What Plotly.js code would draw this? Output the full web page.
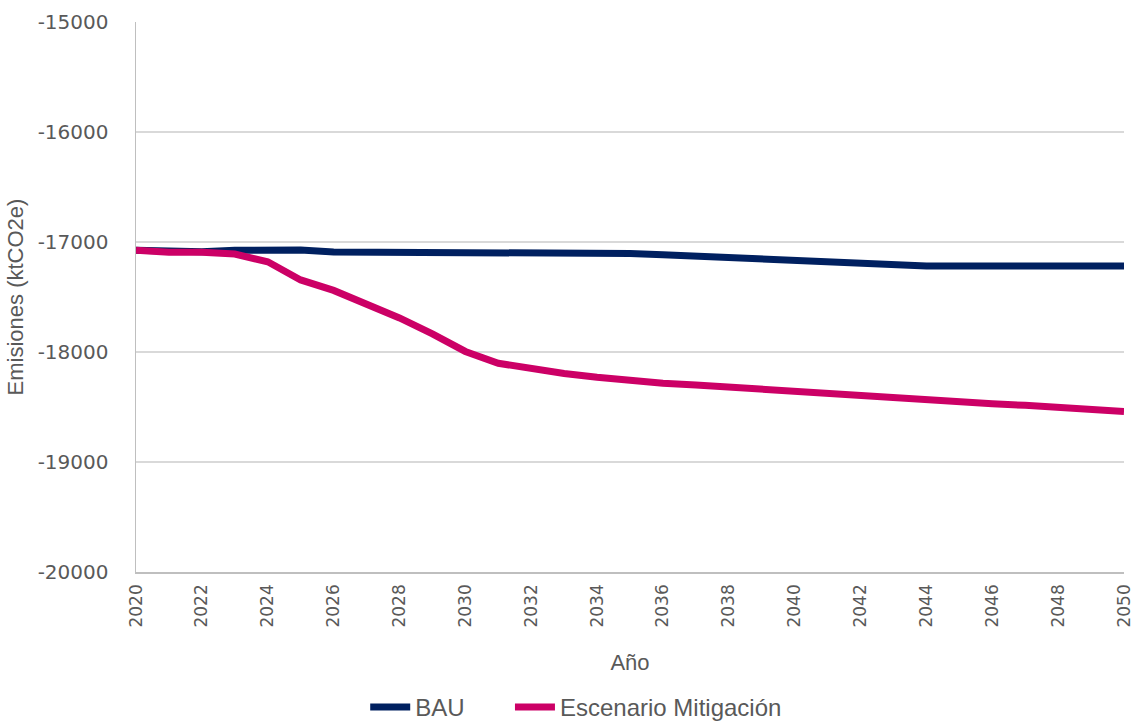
<!DOCTYPE html>
<html>
<head>
<meta charset="utf-8">
<script src="https://cdn.plot.ly/plotly-3.0.1.min.js"></script>
<style>body{margin:0;background:#fff;}#chart{width:1135px;height:724px;}</style>
</head>
<body>
<div id="chart"></div>
<script>
const years = [2020,2021,2022,2023,2024,2025,2026,2027,2028,2029,2030,2031,2032,2033,2034,2035,2036,2037,2038,2039,2040,2041,2042,2043,2044,2045,2046,2047,2048,2049,2050];
const bau = [-17075,-17085,-17088,-17075,-17072,-17072,-17090,-17090,-17090,-17092,-17092,-17093,-17093,-17093,-17103,-17105,-17115,-17128,-17140,-17162,-17178,-17188,-17198,-17208,-17218,-17218,-17218,-17218,-17218,-17218,-17218];
const mitig = [-17075,-17094,-17094,-17110,-17180,-17345,-17440,-17565,-17690,-17835,-17995,-18103,-18155,-18195,-18230,-18265,-18285,-18300,-18320,-18345,-18365,-18385,-18400,-18420,-18440,-18460,-18470,-18485,-18505,-18515,-18540];
const yTicks = [-20000,-19000,-18000,-17000,-16000,-15000];
const yTickText = ["-20000","-19000","-18000","-17000","-16000","-15000"];
const xTicks = [2020,2022,2024,2026,2028,2030,2032,2034,2036,2038,2040,2042,2044,2046,2048,2050];

const font = "Liberation Sans Narrow, Liberation Sans, Arial, sans-serif";
const traces = [
  {x: years, y: bau, name: "BAU", type: "scatter", mode: "lines", line: {color: "#002060", width: 7}, legend: "legend"},
  {x: years, y: mitig, name: "Escenario Mitigación", type: "scatter", mode: "lines", line: {color: "#CC0066", width: 7}, legend: "legend2"}
];
const legFont = {size: 24, color: "#595959", family: font};
const layout = {
  width: 1135, height: 724,
  margin: {l: 136, r: 11, t: 22, b: 152},
  paper_bgcolor: "#fff", plot_bgcolor: "#fff",
  font: {family: font, color: "#595959", size: 20},
  showlegend: true,
  legend: {orientation: "h", x: 0.232, xref: "paper", xanchor: "left", y: 0.054, yref: "container", yanchor: "top", font: legFont, itemwidth: 40},
  legend2: {orientation: "h", x: 0.3785, xref: "paper", xanchor: "left", y: 0.054, yref: "container", yanchor: "top", font: legFont, itemwidth: 40},
  xaxis: {
    range: [2020, 2050], tickvals: xTicks, tickangle: -90, automargin: false,
    tickfont: {size: 17, family: "DejaVu Sans, sans-serif", color: "#595959"},
    showgrid: false, zeroline: false, showline: true, linecolor: "#bfbfbf", linewidth: 1.5,
    ticks: "", ticklen: 0, ticklabelstandoff: 4,
    title: {text: "Año", font: {size: 22, family: font, color: "#595959"}, standoff: 28}
  },
  yaxis: {
    range: [-20000, -15000], tickvals: yTicks, ticktext: yTickText, automargin: false,
    tickfont: {size: 20, family: "DejaVu Sans, sans-serif", color: "#595959"},
    showgrid: true, gridcolor: "#d9d9d9", gridwidth: 1.5, zeroline: false,
    showline: true, linecolor: "#bfbfbf", linewidth: 1.5, ticks: "", ticklabelstandoff: 22,
    title: {text: "Emisiones (ktCO2e)", font: {size: 22, family: font, color: "#595959"}, standoff: 8}
  }
};
Plotly.newPlot("chart", traces, layout, {displayModeBar: false, staticPlot: true});
</script>
</body>
</html>
